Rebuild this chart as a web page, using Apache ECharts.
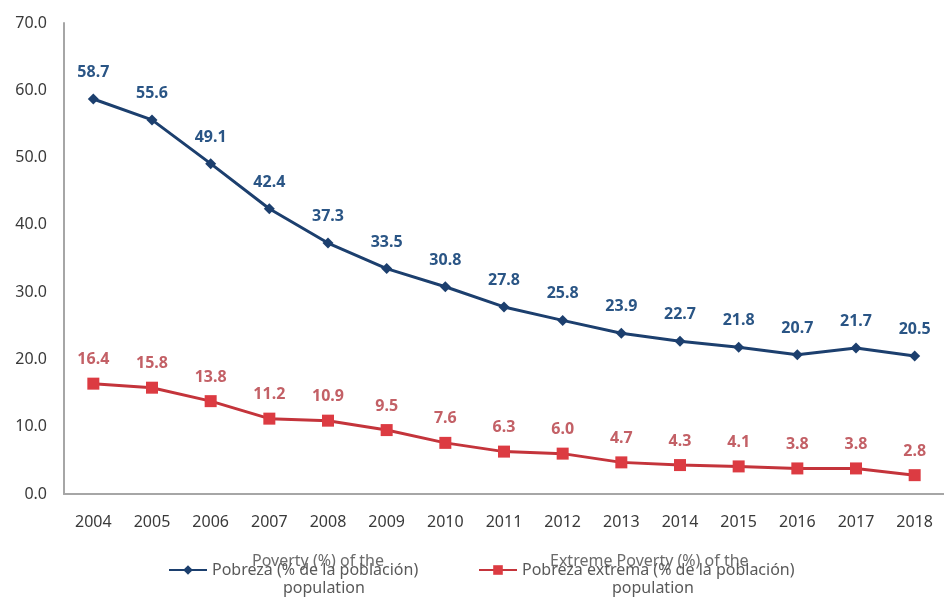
<!DOCTYPE html>
<html>
<head>
<meta charset="utf-8">
<script src="https://cdn.jsdelivr.net/npm/echarts@6/dist/echarts.min.js"></script>
<style>html,body{margin:0;padding:0;background:#fff;}#c{width:944px;height:605px;}</style>
</head>
<body>
<div id="c"></div>
<script>
const years = ['2004','2005','2006','2007','2008','2009','2010','2011','2012','2013','2014','2015','2016','2017','2018'];
const pobreza = [58.7,55.6,49.1,42.4,37.3,33.5,30.8,27.8,25.8,23.9,22.7,21.8,20.7,21.7,20.5];
const pobrezaExtrema = [16.4,15.8,13.8,11.2,10.9,9.5,7.6,6.3,6.0,4.7,4.3,4.1,3.8,3.8,2.8];
const nameP = 'Pobreza (% de la población)';
const nameE = 'Pobreza extrema (% de la población)';
const overlayP = ['Poverty (%) of the', 'population'];
const overlayE = ['Extreme Poverty (%) of the', 'population'];

const chart = echarts.init(document.getElementById('c'));
const font = 'Noto Sans';
chart.setOption({
  backgroundColor: '#fff',
  animation: false,
  grid: {left: 64, top: 23, width: 888, bottom: 111},
  legend: [
    {data: [nameP], left: 163, top: 557, itemWidth: 38, itemHeight: 12, itemGap: 4,
     textStyle: {fontFamily: font, fontSize: 16, color: '#595959'}},
    {data: [nameE], left: 473, top: 557, itemWidth: 38, itemHeight: 12,
     textStyle: {fontFamily: font, fontSize: 16, color: '#595959'}}
  ],
  xAxis: {
    type: 'category', data: years, boundaryGap: true,
    axisLine: {lineStyle: {color: '#a6a6a6', width: 2}},
    axisTick: {show: false},
    axisLabel: {margin: 20, fontFamily: font, fontSize: 16, color: '#3a3a3a'}
  },
  yAxis: {
    type: 'value', min: 0, max: 70, interval: 10,
    axisLine: {show: true, lineStyle: {color: '#a6a6a6', width: 2}},
    axisTick: {show: false},
    splitLine: {show: false},
    axisLabel: {margin: 17, fontFamily: font, fontSize: 16, color: '#3a3a3a',
      formatter: v => v.toFixed(1)}
  },
  series: [
    {name: nameP, type: 'line', data: pobreza, symbol: 'diamond', symbolSize: 11,
     lineStyle: {color: '#1c3f6e', width: 3},
     itemStyle: {color: '#1c3f6e'},
     label: {show: true, position: 'top', distance: 13, fontFamily: font, fontSize: 16,
       fontWeight: 'bold', color: '#2a5585', formatter: p => p.value.toFixed(1)}},
    {name: nameE, type: 'line', data: pobrezaExtrema, symbol: 'rect', symbolSize: 12,
     lineStyle: {color: '#c4343b', width: 3},
     itemStyle: {color: '#dc3b42'},
     label: {show: true, position: 'top', distance: 10, fontFamily: font, fontSize: 16,
       fontWeight: 'bold', color: '#c36066', formatter: p => p.value.toFixed(1)}}
  ],
  graphic: [
    {type: 'text', left: 252, top: 553, style: {text: overlayP[0], font: '16px "Noto Sans"', fill: '#6b6b6b'}},
    {type: 'text', left: 283, top: 580, style: {text: overlayP[1], font: '16px "Noto Sans"', fill: '#595959'}},
    {type: 'text', left: 550, top: 553, style: {text: overlayE[0], font: '16px "Noto Sans"', fill: '#6b6b6b'}},
    {type: 'text', left: 612, top: 580, style: {text: overlayE[1], font: '16px "Noto Sans"', fill: '#595959'}}
  ]
});
</script>
</body>
</html>
